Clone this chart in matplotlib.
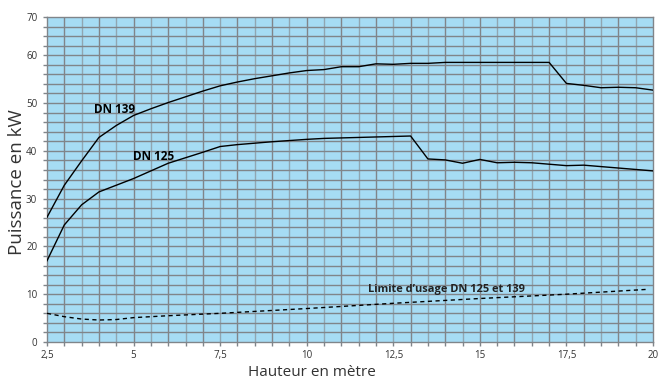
import numpy as np
import matplotlib.pyplot as plt
from matplotlib.ticker import MultipleLocator, FixedLocator

plt.rcParams['font.family'] = ['Open Sans', 'DejaVu Sans']

# Hauteur (m) / Puissance (kW)
x_dn139 = [2.5, 3.0, 3.5, 4.0, 4.5, 5.0, 5.5, 6.0, 6.5, 7.0, 7.5, 8.0, 8.5, 9.0,
           9.5, 10.0, 10.5, 11.0, 11.5, 12.0, 12.5, 13.0, 13.5, 14.0, 17.0,
           17.5, 18.0, 18.5, 19.0, 19.5, 20.0]
y_dn139 = [26.1, 32.8, 37.9, 42.8, 45.3, 47.4, 48.8, 50.1, 51.3, 52.5, 53.6,
           54.4, 55.1, 55.7, 56.3, 56.8, 57.0, 57.6, 57.6, 58.2, 58.1, 58.3,
           58.3, 58.5, 58.5, 54.1, 53.7, 53.2, 53.3, 53.2, 52.7]

x_dn125 = [2.5, 3.0, 3.5, 4.0, 5.0, 6.0, 7.0, 7.5, 8.0, 9.0, 10.0, 10.5, 11.0,
           12.0, 13.0, 13.5, 14.0, 14.5, 15.0, 15.5, 16.0, 16.5, 17.0, 17.5,
           18.0, 18.5, 19.0, 20.0]
y_dn125 = [17.0, 24.5, 28.7, 31.4, 34.2, 37.4, 39.7, 40.9, 41.3, 41.9, 42.4,
           42.6, 42.7, 42.9, 43.1, 38.3, 38.1, 37.4, 38.2, 37.5, 37.6, 37.5,
           37.2, 36.9, 37.0, 36.7, 36.4, 35.8]

x_limite = [2.5, 3.0, 3.5, 4.0, 4.5, 5.0, 6.0, 7.5, 10.0, 12.5, 15.0, 17.5, 19.8]
y_limite = [6.0, 5.3, 4.8, 4.6, 4.7, 5.1, 5.5, 6.0, 7.0, 8.1, 9.1, 10.0, 11.0]

x_ticks = [2.5, 5, 7.5, 10, 12.5, 15, 17.5, 20]
x_ticklabels = ['2,5', '5', '7,5', '10', '12,5', '15', '17,5', '20']
y_ticks = [0, 10, 20, 30, 40, 50, 60, 68]
y_ticklabels = ['0', '10', '20', '30', '40', '50', '60', '70']

W, H = 659, 378
fig = plt.figure(figsize=(W / 100, H / 100), dpi=100)
ax = fig.add_axes([47 / W, 36 / H, 606 / W, 325 / H])
ax.set_facecolor('#a6dcf4')
ax.set_xlim(2.5, 20)
ax.set_ylim(0, 68)

# grid: whole-number verticals darker, half-unit ones lighter
for xv in np.arange(3.0, 20.0, 0.5):
    c = '#80858a' if xv % 1 == 0 else '#90a6b2'
    ax.axvline(xv, color=c, lw=1.0, zorder=1)
for yv in np.arange(2, 68, 2):
    ax.axhline(yv, color='#80858a', lw=1.0, zorder=1)

ax.plot(x_dn139, y_dn139, color='black', lw=1.0, zorder=3)
ax.plot(x_dn125, y_dn125, color='black', lw=1.0, zorder=3)
ax.plot(x_limite, y_limite, color='black', lw=1.0, ls=(0, (3, 2.5)), zorder=3)

ax.text(3.85, 48.7, 'DN 139', fontsize=8.5, fontweight='bold', va='center')
ax.text(4.98, 38.8, 'DN 125', fontsize=8.5, fontweight='bold', va='center')
ax.text(11.77, 10.9, 'Limite d\u2019usage DN 125 et 139', fontsize=7.9,
        fontweight='bold', va='center', color='#222222')

for side in ['top', 'right', 'left', 'bottom']:
    ax.spines[side].set_color('#80858a')
    ax.spines[side].set_linewidth(1.0)

ax.xaxis.set_major_locator(FixedLocator(x_ticks))
ax.set_xticklabels(x_ticklabels)
ax.xaxis.set_minor_locator(MultipleLocator(0.5))
ax.yaxis.set_major_locator(FixedLocator(y_ticks))
ax.set_yticklabels(y_ticklabels)
ax.yaxis.set_minor_locator(MultipleLocator(2))
ax.tick_params(which='both', direction='out', color='#80858a', width=1.0,
               labelsize=7, labelcolor='#333333')
ax.tick_params(axis='x', which='both', length=3, pad=3)
ax.tick_params(axis='y', which='both', length=3, pad=4)

fig.text(312 / W, 1 - 372 / H, 'Hauteur en m\u00e8tre', fontsize=11,
         color='#333333', ha='center', va='center')
fig.text(17 / W, 1 - 182 / H, 'Puissance en kW', fontsize=13.5,
         color='#333333', ha='center', va='center', rotation=90)

fig.savefig('out.png', dpi=100)
